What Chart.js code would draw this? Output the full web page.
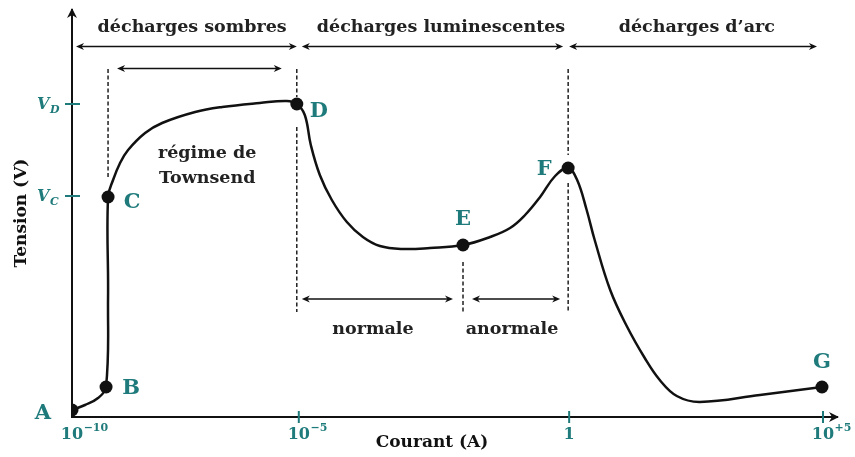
<!DOCTYPE html>
<html>
<head>
<meta charset="utf-8">
<title>Caractéristique courant-tension d'une décharge</title>
<script src="https://cdn.jsdelivr.net/npm/chart.js@4.4.0/dist/chart.umd.min.js"></script>
<style>
    html, body { margin: 0; padding: 0; background: #ffffff; }
    #chart { display: block; }
</style>
</head>
<body>
<canvas id="chart" width="855" height="457"></canvas>
<script>
'use strict';

/******************************************************************************************
DATA
******************************************************************************************/

// schematic units: x = stretched log10 of the current (10^-10 at 0), y = voltage (arbitrary)
const curve_x = [0, 0.26, 0.52, 0.68, 0.72, 0.72, 0.82, 0.96, 1.12, 1.46, 1.80, 2.46, 3.00, 3.75, 4.29, 4.49,
                 4.65, 4.77, 4.95, 5.19, 5.49, 5.81, 6.15, 6.61, 7.15, 7.81,
                 8.35, 8.75, 9.05, 9.35, 9.65, 9.91,
                 10.09, 10.28, 10.44, 10.75, 11.08, 11.44, 11.74, 12.08, 12.54, 13.74, 14.98];
const curve_y = [0.14, 0.24, 0.38, 0.60, 2.40, 4.40, 4.74, 5.08, 5.34, 5.68, 5.88, 6.10, 6.20, 6.28, 6.32, 6.26,
                 6.04, 5.44, 4.84, 4.34, 3.90, 3.60, 3.42, 3.36, 3.38, 3.44,
                 3.60, 3.78, 4.04, 4.40, 4.82, 4.98,
                 4.74, 4.14, 3.54, 2.54, 1.82, 1.18, 0.74, 0.42, 0.30, 0.44, 0.60];

const point_names = ['A', 'B', 'C', 'D', 'E', 'F', 'G'];
const point_x = [0, 0.68, 0.72, 4.49, 7.81, 9.91, 14.98];
const point_y = [0.14, 0.60, 4.40, 6.26, 3.44, 4.98, 0.60];

const x_tick_values = [0, 4.53, 9.93, 15.0];
const x_tick_base = ['10', '10', '1', '10'];
const x_tick_exp = ['\u221210', '\u22125', '', '+5'];

const y_tick_values = [4.42, 6.26];
const y_tick_sub = ['C', 'D'];

// vertical dashed separators: [x, y_from, y_to]
const dash_segments = [
    [0.72, 6.96, 4.78],
    [4.49, 6.96, 6.40], [4.49, 5.80, 2.10],
    [7.81, 3.10, 2.10],
    [9.91, 6.96, 5.24], [9.91, 4.68, 2.10]
];

// double arrows: [y, x_from, x_to]
const span_arrows = [
    [7.41, 0.08, 4.49], [7.41, 4.59, 9.81], [7.41, 9.93, 14.88],
    [6.97, 0.90, 4.19],
    [2.36, 4.59, 7.61], [2.36, 7.99, 9.75]
];

// annotations: [text, x, y baseline]
const notes = [
    ['décharges sombres', 2.40, 7.71],
    ['décharges luminescentes', 7.37, 7.71],
    ['décharges d\u2019arc', 12.48, 7.71],
    ['régime de', 2.70, 5.18],
    ['Townsend', 2.70, 4.68],
    ['normale', 6.01, 1.66],
    ['anormale', 8.79, 1.66]
];

// label offsets of the points, in pixels
const point_label_offset = [[-29, 9], [25, 7], [24, 11], [22, 13], [0, -20], [-24, 7], [0, -19]];


/******************************************************************************************
STYLE
******************************************************************************************/

const TEAL = '#1f7b7b';
const INK = '#111111';
const TEXT = '#222222';
const SERIF = '"DejaVu Serif", "Liberation Serif", serif';


/******************************************************************************************
DECORATION PLUGIN
******************************************************************************************/

function arrow_head(ctx, x, y, dx, dy, len, half) {
    // filled arrow head with its tip at (x, y), pointing in direction (dx, dy)
    ctx.beginPath();
    ctx.moveTo(x, y);
    ctx.lineTo(x - dx * len - dy * half, y - dy * len + dx * half);
    ctx.lineTo(x - dx * len * 0.7, y - dy * len * 0.7);
    ctx.lineTo(x - dx * len + dy * half, y - dy * len - dx * half);
    ctx.closePath();
    ctx.fill();
}

const decor_plugin = {
    id: 'decor',
    afterDraw(chart) {
        const ctx = chart.ctx;
        const xs = chart.scales.x;
        const ys = chart.scales.y;
        const area = chart.chartArea;
        const X = v => xs.getPixelForValue(v);
        const Y = v => ys.getPixelForValue(v);

        ctx.save();

        // axis arrow heads
        ctx.fillStyle = INK;
        arrow_head(ctx, area.left, area.top - 2, 0, -1, 10, 5);
        arrow_head(ctx, area.right + 2, area.bottom, 1, 0, 10, 5);

        // span arrows
        ctx.strokeStyle = INK;
        ctx.lineWidth = 1.5;
        span_arrows.forEach(a => {
            const y = Y(a[0]), x0 = X(a[1]), x1 = X(a[2]);
            ctx.beginPath();
            ctx.moveTo(x0 + 4, y);
            ctx.lineTo(x1 - 4, y);
            ctx.stroke();
            arrow_head(ctx, x0, y, -1, 0, 8, 3.5);
            arrow_head(ctx, x1, y, 1, 0, 8, 3.5);
        });

        // tick marks crossing the axes
        ctx.strokeStyle = TEAL;
        ctx.lineWidth = 2;
        xs.ticks.forEach(t => {
            if (t.value === 0) return;
            const x = X(t.value);
            ctx.beginPath();
            ctx.moveTo(x, area.bottom - 6);
            ctx.lineTo(x, area.bottom + 6);
            ctx.stroke();
        });
        ys.ticks.forEach(t => {
            const y = Y(t.value);
            ctx.beginPath();
            ctx.moveTo(area.left - 7, y);
            ctx.lineTo(area.left + 8, y);
            ctx.stroke();
        });

        // x tick labels: base centred on the tick, exponent hanging to the right
        ctx.fillStyle = TEAL;
        ctx.textBaseline = 'alphabetic';
        xs.ticks.forEach((t, i) => {
            const x = X(t.value);
            ctx.font = 'bold 16px ' + SERIF;
            ctx.textAlign = 'center';
            ctx.fillText(x_tick_base[i], x, area.bottom + 22);
            const w = ctx.measureText(x_tick_base[i]).width;
            ctx.font = 'bold 11px ' + SERIF;
            ctx.textAlign = 'left';
            ctx.fillText(x_tick_exp[i], x + w / 2 + 0.5, area.bottom + 14);
        });

        // y tick labels V_C, V_D
        ys.ticks.forEach((t, i) => {
            const y = Y(t.value);
            ctx.font = 'italic bold 16px ' + SERIF;
            ctx.textAlign = 'left';
            ctx.fillText('V', 37, y + 5);
            ctx.font = 'italic bold 11px ' + SERIF;
            ctx.fillText(y_tick_sub[i], 50, y + 9);
        });

        // axis titles
        ctx.fillStyle = INK;
        ctx.font = 'bold 17px ' + SERIF;
        ctx.textAlign = 'center';
        ctx.textBaseline = 'middle';
        ctx.fillText('Courant (A)', 432, area.bottom + 26);
        ctx.save();
        ctx.translate(22, 213);
        ctx.rotate(-Math.PI / 2);
        ctx.fillText('Tension (V)', 0, 0);
        ctx.restore();

        // annotations
        ctx.fillStyle = TEXT;
        ctx.font = 'bold 17.5px ' + SERIF;
        ctx.textBaseline = 'alphabetic';
        notes.forEach(n => {
            ctx.fillText(n[0], X(n[1]), Y(n[2]));
        });

        // point names
        ctx.fillStyle = TEAL;
        ctx.font = 'bold 21px ' + SERIF;
        point_names.forEach((name, i) => {
            const o = point_label_offset[i];
            ctx.fillText(name, X(point_x[i]) + o[0], Y(point_y[i]) + o[1]);
        });

        ctx.restore();
    }
};


/******************************************************************************************
CHART
******************************************************************************************/

const datasets = [];

datasets.push({
    label: 'caractéristique',
    data: curve_x.map((x, i) => ({ x: x, y: curve_y[i] })),
    showLine: true,
    borderColor: INK,
    borderWidth: 2.5,
    tension: 0.4,
    pointRadius: 0,
    order: 2
});

datasets.push({
    label: 'points',
    data: point_x.map((x, i) => ({ x: x, y: point_y[i] })),
    showLine: false,
    pointRadius: 6.5,
    pointBackgroundColor: INK,
    pointBorderColor: INK,
    pointBorderWidth: 0,
    order: 0
});

dash_segments.forEach((s, i) => {
    datasets.push({
        label: 'limite ' + i,
        data: [{ x: s[0], y: s[1] }, { x: s[0], y: s[2] }],
        showLine: true,
        borderColor: INK,
        borderWidth: 1.4,
        borderDash: [4, 2.5],
        pointRadius: 0,
        order: 3
    });
});

new Chart(document.getElementById('chart').getContext('2d'), {
    type: 'scatter',
    data: { datasets: datasets },
    options: {
        responsive: false,
        animation: false,
        devicePixelRatio: 1,
        layout: { padding: { top: 10, right: 18, left: 0, bottom: 0 } },
        plugins: {
            legend: { display: false },
            tooltip: { enabled: false }
        },
        scales: {
            x: {
                type: 'linear',
                min: 0,
                max: 15.28,
                grid: { display: false, drawTicks: false },
                border: { display: true, color: INK, width: 2 },
                ticks: { display: false },
                afterBuildTicks: s => { s.ticks = x_tick_values.map(v => ({ value: v })); },
                afterFit: s => { s.height = 40; s.paddingLeft = 0; s.paddingRight = 0; }
            },
            y: {
                type: 'linear',
                min: 0,
                max: 8.14,
                grid: { display: false, drawTicks: false },
                border: { display: true, color: INK, width: 2 },
                ticks: { display: false },
                afterBuildTicks: s => { s.ticks = y_tick_values.map(v => ({ value: v })); },
                afterFit: s => { s.width = 72; s.paddingTop = 0; s.paddingBottom = 0; }
            }
        }
    },
    plugins: [decor_plugin]
});
</script>
</body>
</html>
